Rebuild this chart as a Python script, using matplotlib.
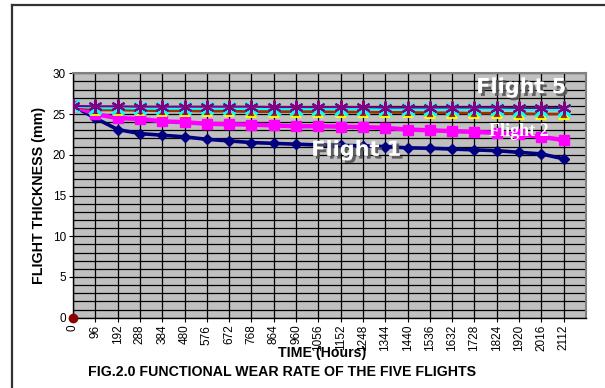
import matplotlib
matplotlib.use("Agg")
import matplotlib.pyplot as plt
import matplotlib.patheffects as pe
from matplotlib.lines import Line2D

plt.rcParams['font.family'] = ['Liberation Sans', 'DejaVu Sans']

hours = [0, 96, 192, 288, 384, 480, 576, 672, 768, 864, 960, 1056,
         1152, 1248, 1344, 1440, 1536, 1632, 1728, 1824, 1920, 2016, 2112]

flight1 = [26.0, 24.5, 23.1, 22.6, 22.4, 22.2, 21.9, 21.7, 21.5, 21.4, 21.3, 21.2,
           21.15, 21.1, 21.0, 20.85, 20.8, 20.7, 20.6, 20.5, 20.3, 20.1, 19.5]
flight2 = [26.0, 25.0, 24.5, 24.4, 24.1, 24.0, 23.8, 23.75, 23.7, 23.6, 23.5, 23.5,
           23.45, 23.4, 23.3, 23.1, 23.0, 22.9, 22.8, 22.7, 22.5, 22.2, 21.8]
flight3 = [26.0, 25.5, 25.5, 25.45, 25.4, 25.4, 25.35, 25.35, 25.3, 25.3, 25.3, 25.3,
           25.25, 25.25, 25.2, 25.2, 25.15, 25.15, 25.1, 25.1, 25.05, 25.0, 25.0]
flight4 = [26.0, 25.75, 25.75, 25.7, 25.7, 25.7, 25.7, 25.7, 25.7, 25.65, 25.65, 25.65,
           25.65, 25.65, 25.6, 25.6, 25.6, 25.6, 25.6, 25.6, 25.55, 25.55, 25.55]
flight5 = [26.0, 25.95, 25.95, 25.9, 25.9, 25.9, 25.9, 25.9, 25.9, 25.85, 25.85, 25.85,
           25.85, 25.85, 25.8, 25.8, 25.8, 25.8, 25.8, 25.8, 25.75, 25.75, 25.75]
origin_value = [0.0]

fig = plt.figure(figsize=(6.05, 3.88), dpi=100)
fig.patch.set_facecolor('white')

# outer chart frame (top and left edges)
fig.add_artist(Line2D([12 / 605, 12 / 605], [0, 1 - 5 / 388], transform=fig.transFigure,
                      color='#333333', lw=1.6))
fig.add_artist(Line2D([12 / 605, 1], [1 - 5 / 388, 1 - 5 / 388], transform=fig.transFigure,
                      color='#333333', lw=1.6))

ax = fig.add_axes([73 / 605, 1 - 317.7 / 388, (586 - 73) / 605, (317.7 - 73.3) / 388])
ax.set_facecolor('#C0C0C0')

x = list(range(len(hours)))

ax.set_xlim(0, len(hours))
ax.set_ylim(0, 30)

# grid: every category and every millimetre
for xv in range(len(hours) + 1):
    ax.axvline(xv, color='black', lw=0.9, zorder=1)
for yv in range(0, 31):
    ax.axhline(yv, color='black', lw=0.9, zorder=1)

ax.plot(x, flight1, color='#000080', lw=2.6, marker='D', ms=5,
        mfc='#000080', mec='#000080', zorder=3)
ax.plot(x, flight2, color='#FF00FF', lw=3.2, marker='s', ms=7,
        mfc='#FF00FF', mec='#FF00FF', zorder=3)
ax.plot(x, flight3, color='#993300', lw=2.0, marker='^', ms=7,
        mfc='#993300', mec='#FFFF00', mew=1.3, zorder=4)
ax.plot(x, flight4, color='#00FFFF', lw=2.0, marker='x', ms=8,
        mfc='#00FFFF', mec='#00FFFF', mew=2.2, zorder=5)
ax.plot(x, flight5, color='#800080', lw=1.5, marker=(6, 2, 0), ms=10,
        mec='#800080', mew=1.5, zorder=6)
ax.plot(x[:1], origin_value, 'o', color='#8B0000', ms=6, zorder=7, clip_on=False)

ax.set_xticks(x)
ax.set_xticklabels([str(h) for h in hours], rotation=90, fontsize=8.5)
ax.set_yticks(range(0, 31, 5))
ax.set_yticklabels([str(v) for v in range(0, 31, 5)], fontsize=8.5)
ax.tick_params(axis='both', direction='out', length=3, width=0.8, color='black', pad=2)

for side in ('top', 'right'):
    ax.spines[side].set_color('#808080')
    ax.spines[side].set_linewidth(1.5)
for side in ('left', 'bottom'):
    ax.spines[side].set_color('black')
    ax.spines[side].set_linewidth(1.0)

ax.set_ylabel('FLIGHT THICKNESS (mm)', fontsize=10.3, fontweight='bold', labelpad=5)
fig.text(322 / 605, 1 - 353 / 388, 'TIME (Hours)', ha='center', va='center',
         fontsize=10.2, fontweight='bold')
fig.text(88 / 605, 1 - 372 / 388, 'FIG.2.0 FUNCTIONAL WEAR RATE OF THE FIVE FLIGHTS',
         ha='left', va='center', fontsize=10.2, fontweight='bold')

shadow = [pe.SimplePatchShadow(offset=(2, -2), shadow_rgbFace='#555555', alpha=0.9),
          pe.Normal()]
ax.text(20.1, 28.3, 'Flight 5', color='white', fontsize=15, fontweight='heavy',
        family=['DejaVu Sans'], ha='center', va='center', path_effects=shadow, zorder=8)
ax.text(12.7, 20.6, 'Flight 1', color='white', fontsize=15, fontweight='heavy',
        family=['DejaVu Sans'], ha='center', va='center', path_effects=shadow, zorder=8)
ax.text(20.0, 22.8, 'Flight 2', color='white', fontsize=13, fontweight='bold',
        family=['Liberation Serif', 'DejaVu Serif'], ha='center', va='center', zorder=8)

fig.savefig('out.png', dpi=100)
